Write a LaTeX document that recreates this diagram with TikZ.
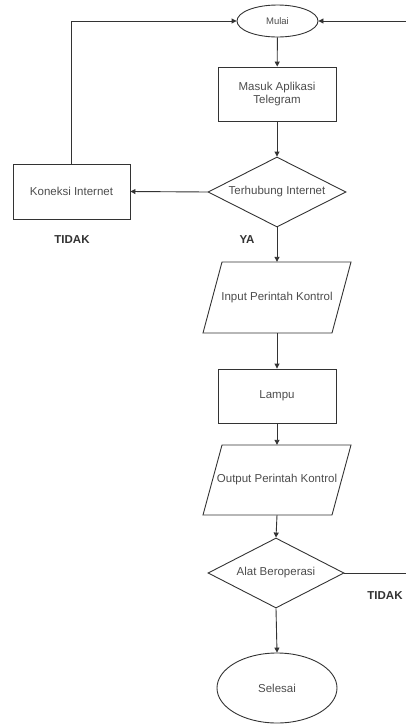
\documentclass[tikz,border=0pt]{standalone}
\usepackage{fontspec}
\setmainfont{Liberation Sans}
\usetikzlibrary{shapes.geometric,arrows.meta,calc}
\begin{document}
\begin{tikzpicture}[x=1pt,y=-1pt,
  every node/.style={font=\fontsize{11.5}{13}\selectfont, text=black!70},
  proc/.style={draw=black!80, line width=0.9pt, rectangle, inner sep=0pt, minimum width=118pt, minimum height=54pt, align=center},
  term/.style={draw=black!80, line width=0.9pt, ellipse, inner sep=0pt},
  dec/.style={draw=black!80, line width=0.9pt, diamond, aspect=2, inner sep=0pt, minimum width=138pt, minimum height=70pt},
  io/.style={rectangle, inner sep=0pt, minimum width=110pt, minimum height=71pt},
  iobox/.style={draw=black!80, line width=0.9pt},
  conn/.style={draw=black!80, line width=0.9pt, -{Triangle[length=5pt,width=5pt]}},
  plain/.style={draw=black!80, line width=0.9pt},
  lbl/.style={font=\fontsize{11.5}{13}\selectfont\bfseries, text=black!80}
]
\useasboundingbox (0,0) rectangle (406,724);

\node[term, minimum width=81pt, minimum height=32pt, font=\fontsize{9.5}{11}\selectfont] (mulai) at (277.5,21) {Mulai};
\node[proc] (masuk) at (277,94) {Masuk Aplikasi\\Telegram};
\node[dec] (terhubung) at (277,192) {Terhubung Internet};
\node[proc, minimum width=117pt, minimum height=55pt] (koneksi) at (71.5,191.5) {Koneksi Internet};
\node[io] (input) at (277,297.5) {Input Perintah Kontrol};
\node[proc] (lampu) at (277,396) {Lampu};
\node[io, minimum height=70pt] (output) at (277,480) {Output Perintah Kontrol};
\node[dec, minimum width=136pt] (alat) at (276,573) {Alat Beroperasi};
\node[term, minimum width=120pt, minimum height=70pt] (selesai) at (277,688) {Selesai};

% parallelograms
\draw[iobox] ($(input.center)+(-55,-35.5)$) -- ($(input.center)+(74,-35.5)$) -- ($(input.center)+(55,35.5)$) -- ($(input.center)+(-74,35.5)$) -- cycle;
\draw[iobox] ($(output.center)+(-55,-35)$) -- ($(output.center)+(74,-35)$) -- ($(output.center)+(55,35)$) -- ($(output.center)+(-74,35)$) -- cycle;

\coordinate (rtop) at (406,21);
\coordinate (rbot) at (406,573);

\draw[conn] (mulai) -- (masuk);
\draw[conn] (masuk) -- (terhubung);
\draw[conn] (terhubung.west) -- (koneksi.east);
\draw[conn] (koneksi.north) |- (mulai.west);
\draw[conn] (rtop) -- (mulai.east);
\draw[conn] (terhubung.south) -- (input.north);
\draw[conn] (input.south) -- (lampu.north);
\draw[conn] (lampu.south) -- (output.north);
\draw[conn] (output.south) -- (alat.north);
\draw[plain] (alat.east) -- (rbot);
\draw[conn] (alat.south) -- (selesai.north);

\node[lbl] (t1) at (72,240) {TIDAK};
\node[lbl] (ya) at (247,240) {YA};
\node[lbl] (t2) at (385,596) {TIDAK};
\end{tikzpicture}
\end{document}
